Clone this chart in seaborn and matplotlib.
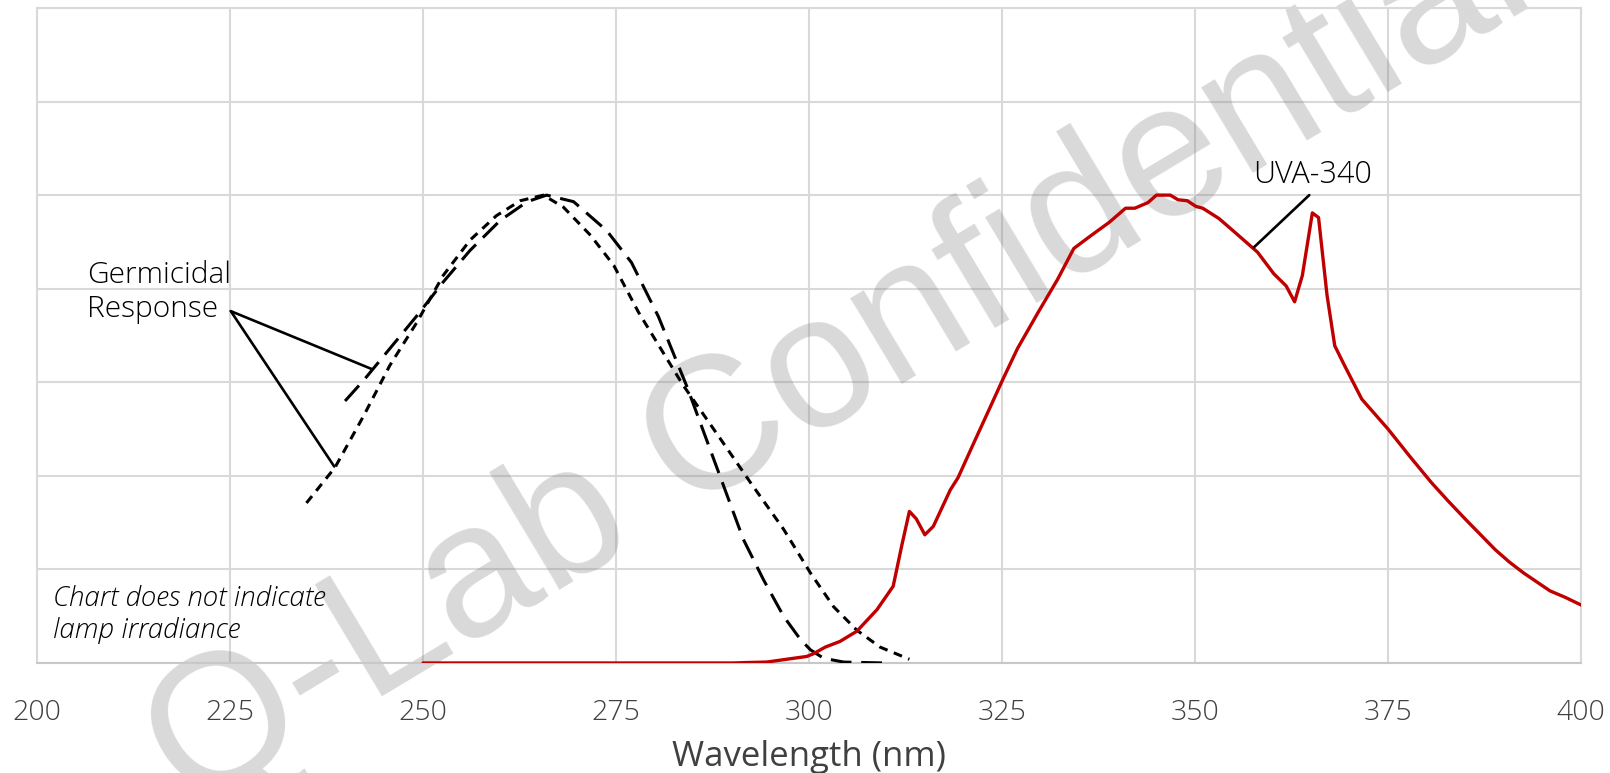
import seaborn as sns
import matplotlib.pyplot as plt
import numpy as np
import pandas as pd

# UVA-340 lamp spectrum (relative)
uva_nm = [250, 255, 260, 265, 270, 275, 280, 285, 290, 292, 294.5, 297.1, 299.7, 300.6,
          302.1, 304.0, 306.2, 308.8, 310.9, 312.0, 313.0, 313.9, 315.0, 316.1, 318.3,
          319.3, 321.5, 323.5, 325.1, 327.0, 329.7, 332.2, 334.3, 336.4, 338.9, 341.0,
          342.2, 343.9, 345.0, 346.8, 347.8, 349.0, 350.1, 351.0, 353.1, 355.2, 358.1,
          360.2, 361.8, 362.9, 363.9, 365.2, 366.0, 367.1, 368.1, 369.3, 371.6, 375.0,
          377.8, 380.6, 382.8, 385.1, 388.9, 390.7, 392.6, 396.0, 398.0, 400.0]
uva_val = [0, 0, 0, 0, 0, 0, 0, 0, 0, 0.005, 0.01, 0.04, 0.07, 0.10,
           0.17, 0.23, 0.34, 0.57, 0.82, 1.25, 1.62, 1.54, 1.37, 1.46, 1.85,
           1.98, 2.38, 2.74, 3.03, 3.36, 3.75, 4.10, 4.43, 4.56, 4.71, 4.86,
           4.86, 4.92, 5.0, 5.0, 4.95, 4.94, 4.88, 4.86, 4.75, 4.60, 4.39,
           4.16, 4.03, 3.86, 4.14, 4.81, 4.76, 3.93, 3.39, 3.19, 2.82, 2.50,
           2.21, 1.93, 1.73, 1.53, 1.21, 1.08, 0.96, 0.77, 0.70, 0.62]

# germicidal response curves
germ_a_nm = [239.9, 242.3, 245.7, 249.2, 252.6, 256.1, 260.0, 263.5, 266.0, 269.5, 273.8,
             277.0, 280.5, 284.2, 287.2, 291.5, 294.1, 296.7, 298.9, 300.2, 301.9, 304.5, 309.9]
germ_a_val = [2.80, 3.02, 3.36, 3.71, 4.07, 4.41, 4.73, 4.93, 5.00, 4.93, 4.62,
              4.28, 3.70, 2.95, 2.28, 1.32, 0.89, 0.50, 0.25, 0.14, 0.05, 0.01, 0.0]
germ_b_nm = [234.9, 238.6, 242.3, 245.7, 249.2, 252.6, 256.1, 259.5, 262.6, 265.6, 268.2,
             271.7, 274.7, 277.9, 283.6, 288.9, 292.4, 296.7, 300.2, 303.2, 306.2, 309.2, 313.0]
germ_b_val = [1.71, 2.09, 2.64, 3.18, 3.64, 4.14, 4.52, 4.78, 4.94, 5.00, 4.87,
              4.57, 4.25, 3.75, 2.98, 2.35, 1.93, 1.43, 0.96, 0.60, 0.35, 0.17, 0.04]

xticks = [200, 225, 250, 275, 300, 325, 350, 375, 400]

sns.set_theme(style='whitegrid')
plt.rcParams['font.family'] = ['Open Sans', 'DejaVu Sans']

fig = plt.figure(figsize=(16.1, 7.73), dpi=100)
ax = fig.add_axes([0.023, 0.1423, 0.959, 0.8474])

sns.lineplot(x=germ_a_nm, y=germ_a_val, ax=ax, color='black', lw=2.2,
             linestyle=(0, (6.8, 3.2)), estimator=None, zorder=3)
sns.lineplot(x=germ_b_nm, y=germ_b_val, ax=ax, color='black', lw=2.2,
             linestyle=(0, (2.9, 2.2)), estimator=None, zorder=3)
sns.lineplot(x=uva_nm, y=uva_val, ax=ax, color='#c00000', lw=2.4,
             estimator=None, zorder=4)

ax.set_xlim(200, 400)
ax.set_ylim(0, 7)
ax.set_xticks(xticks)
ax.set_yticks(range(0, 8))
ax.set_yticklabels([])
ax.grid(True, color='#d9d9d9', lw=1.5)
for s in ax.spines.values():
    s.set_color('#d9d9d9')
    s.set_linewidth(1.5)
ax.spines['bottom'].set_color('#c8c8c8')
ax.tick_params(axis='x', length=0, pad=26, labelsize=20.5, labelcolor='#404040')
ax.tick_params(axis='y', length=0)
for lab in ax.get_xticklabels():
    lab.set_fontweight('light')
ax.set_xlabel('Wavelength (nm)', fontsize=25, color='#404040', labelpad=9)
ax.set_ylabel('')

# annotations
ax.plot([225.1, 243.4], [3.76, 3.14], color='black', lw=1.9, zorder=5)
ax.plot([225.1, 238.5], [3.76, 2.10], color='black', lw=1.9, zorder=5)
ax.text(206.5, 3.96, 'Germicidal\nResponse', fontsize=21.5, fontweight='light',
        ha='left', va='center', color='black', linespacing=1.22)
ax.plot([357.6, 364.8], [4.44, 5.0], color='black', lw=1.9, zorder=5)
ax.text(365.2, 5.22, 'UVA-340', fontsize=22, fontweight='light',
        ha='center', va='center', color='black')
ax.text(202.1, 0.52, 'Chart does not indicate\nlamp irradiance', fontsize=20,
        fontstyle='italic', fontweight='light', ha='left', va='center',
        color='black', linespacing=1.25)

# watermark
ax.text(0.521, 0.529, 'Q-Lab Confidential', transform=fig.transFigure,
        fontsize=136, family='Liberation Sans', rotation=31, color='#808080',
        alpha=0.3, ha='center', va='center', clip_on=False, zorder=1.5)

plt.savefig('out.png', dpi=100)
